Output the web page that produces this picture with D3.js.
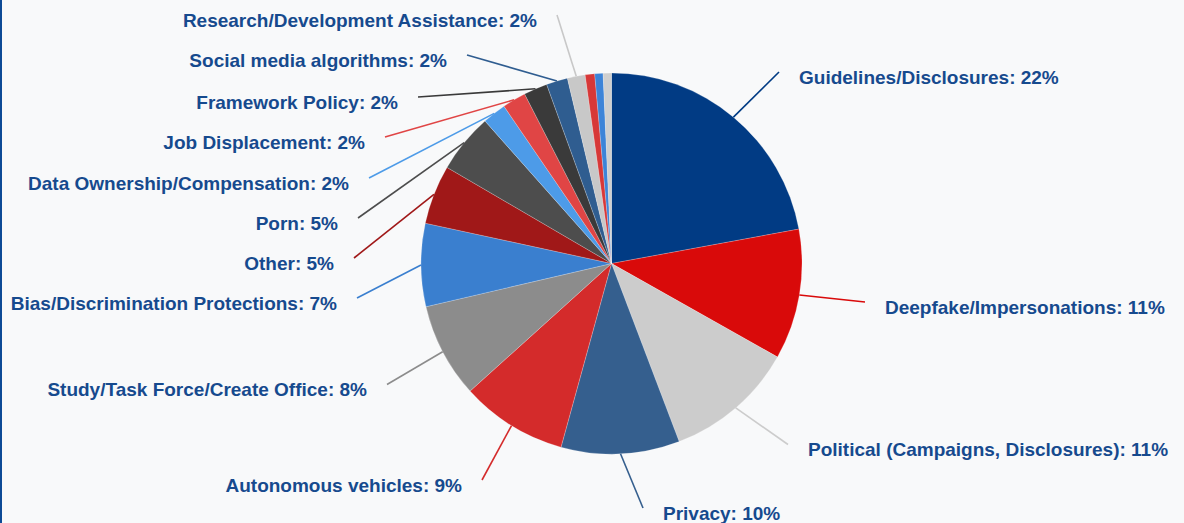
<!DOCTYPE html>
<html>
<head>
<meta charset="utf-8">
<script src="https://cdn.jsdelivr.net/npm/d3@7/dist/d3.min.js"></script>
<style>
  html, body { margin: 0; padding: 0; background: #f8f9fa; }
  svg { display: block; }
</style>
</head>
<body>
<svg id="chart" width="1184" height="523"></svg>
<script>
// ---- data ----
const categories = [
  "Guidelines/Disclosures",
  "Deepfake/Impersonations",
  "Political (Campaigns, Disclosures)",
  "Privacy",
  "Autonomous vehicles",
  "Study/Task Force/Create Office",
  "Bias/Discrimination Protections",
  "Other",
  "Porn",
  "Data Ownership/Compensation",
  "Job Displacement",
  "Framework Policy",
  "Social media algorithms",
  "Research/Development Assistance",
  "",
  "",
  ""
];
const values = [22, 11, 11, 10, 9, 8, 7, 5, 5, 2, 2, 2, 1.8, 1.5, 0.8, 0.7, 0.7];
const valueLabels = ["22%", "11%", "11%", "10%", "9%", "8%", "7%", "5%", "5%", "2%", "2%", "2%", "2%", "2%", "", "", ""];
const colors = [
  "#013b84", "#d90a0a", "#cccccc", "#355f8e", "#d42b2b", "#8c8c8c",
  "#3a7fcf", "#a01818", "#4d4d4d", "#4d9be8", "#e04545", "#3a3a3a",
  "#2f5d90", "#c8c8c8", "#d73838", "#3d84d8", "#cfcfcf"
];
// leader line end points, relative to the pie centre (layout only)
const labelAnchors = [
  [167.5, -191.5], [253.5, 38.5], [176.5, 181], [31.5, 244.5],
  [-129.5, 216.5], [-224.5, 121], [-254.5, 34.5], [-257.5, -5.5],
  [-253.5, -45.5], [-242.5, -85.5], [-226.5, -126.5], [-193.5, -166.5],
  [-144.5, -208.5], [-54.5, -248.5], null, null, null
];

// ---- layout ----
const W = 1184, H = 523;
const cx = 611.5, cy = 263.5, R = 190.5;
const svg = d3.select("#chart");

svg.append("rect").attr("width", W).attr("height", H).attr("fill", "#f8f9fa");
svg.append("rect").attr("x", 0).attr("y", 0).attr("width", 2).attr("height", H).attr("fill", "#0d4a96");

const data = categories.map((c, i) => ({ name: c, value: values[i], label: valueLabels[i], color: colors[i], anchor: labelAnchors[i] }));

const pie = d3.pie().value(d => d.value).sort(null).startAngle(0).endAngle(2 * Math.PI);
const arcs = pie(data);
const arc = d3.arc().innerRadius(0).outerRadius(R);

const g = svg.append("g").attr("transform", `translate(${cx},${cy})`);

g.selectAll("path.slice")
  .data(arcs)
  .join("path")
  .attr("class", "slice")
  .attr("d", arc)
  .attr("fill", d => d.data.color)
  .attr("stroke", "rgba(255,255,255,0.35)")
  .attr("stroke-width", 0.6);

const labelled = arcs.filter(d => d.data.anchor);

g.selectAll("line.leader")
  .data(labelled)
  .join("line")
  .attr("class", "leader")
  .attr("x1", d => R * Math.sin((d.startAngle + d.endAngle) / 2))
  .attr("y1", d => -R * Math.cos((d.startAngle + d.endAngle) / 2))
  .attr("x2", d => d.data.anchor[0])
  .attr("y2", d => d.data.anchor[1])
  .attr("stroke", d => d.data.color)
  .attr("stroke-width", 1.6);

g.selectAll("text.lbl")
  .data(labelled)
  .join("text")
  .attr("class", "lbl")
  .attr("x", d => d.data.anchor[0] + (d.data.anchor[0] >= 0 ? 20 : -20))
  .attr("y", d => d.data.anchor[1] + 5)
  .attr("dy", "0.35em")
  .attr("text-anchor", d => d.data.anchor[0] >= 0 ? "start" : "end")
  .attr("font-family", "Liberation Sans, Arial, sans-serif")
  .attr("font-weight", "bold")
  .attr("font-size", 19)
  .attr("fill", "#164a8e")
  .text(d => `${d.data.name}: ${d.data.label}`);
</script>
</body>
</html>
